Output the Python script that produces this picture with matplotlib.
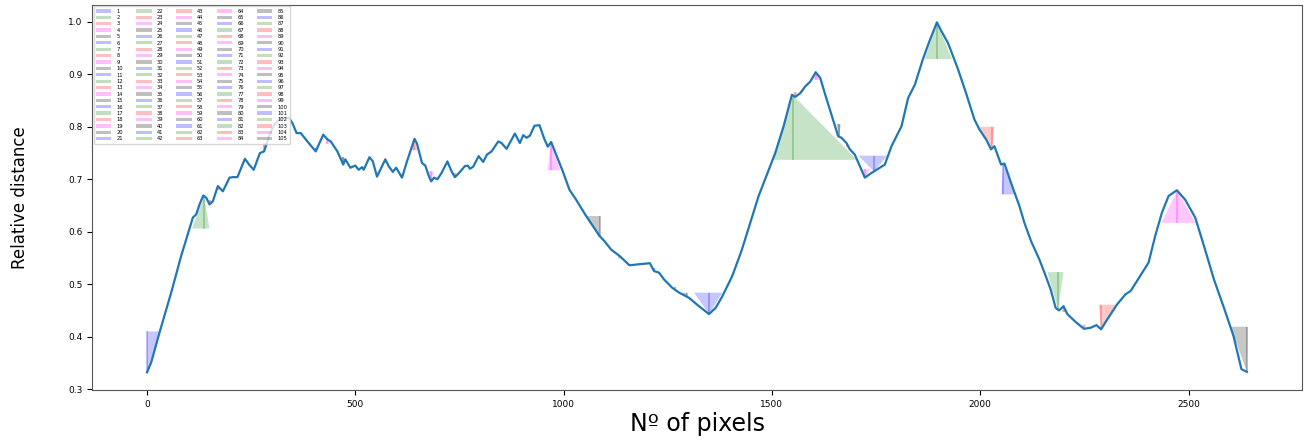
import numpy as np
from matplotlib import pyplot as plt
from matplotlib.patches import Patch

# Kurve
px = [0, 10, 30, 58, 82, 110, 118, 126, 135, 142, 150, 158, 170, 182, 198, 206, 217, 235, 245, 256,
      271, 281, 293, 305, 321, 341, 349, 359, 369, 385, 405, 423, 433, 441, 457, 471, 476, 488, 500, 508,
      516, 520, 534, 542, 552, 560, 572, 580, 590, 598, 612, 624, 642, 648, 660, 668, 676, 682, 689, 697,
      707, 721, 731, 739, 750, 763, 770, 775, 783, 796, 807, 816, 827, 843, 851, 863, 883, 895, 903, 911,
      919, 930, 942, 954, 962, 970, 982, 998, 1014, 1030, 1054, 1070, 1086, 1098, 1114, 1134, 1158, 1181, 1207, 1217,
      1229, 1241, 1261, 1277, 1301, 1325, 1349, 1365, 1381, 1405, 1428, 1448, 1468, 1488, 1508, 1528, 1548, 1556, 1568, 1580,
      1592, 1605, 1616, 1628, 1644, 1659, 1667, 1679, 1687, 1699, 1711, 1723, 1739, 1759, 1771, 1787, 1811, 1827, 1843, 1862,
      1878, 1896, 1907, 1923, 1947, 1966, 1986, 1998, 2014, 2026, 2034, 2050, 2058, 2074, 2094, 2106, 2122, 2142, 2157, 2169,
      2181, 2189, 2200, 2209, 2229, 2249, 2265, 2279, 2290, 2305, 2329, 2349, 2361, 2384, 2404, 2420, 2436, 2452, 2472, 2492,
      2516, 2537, 2561, 2585, 2608, 2627, 2640]
dist = [0.332, 0.351, 0.408, 0.484, 0.554, 0.627, 0.633, 0.652, 0.669, 0.665, 0.652, 0.658, 0.687, 0.677, 0.703, 0.704, 0.704, 0.739, 0.728, 0.718,
        0.750, 0.753, 0.782, 0.804, 0.817, 0.817, 0.807, 0.788, 0.788, 0.772, 0.753, 0.785, 0.776, 0.772, 0.753, 0.728, 0.738, 0.722, 0.726, 0.718,
        0.723, 0.718, 0.742, 0.734, 0.705, 0.718, 0.738, 0.725, 0.714, 0.722, 0.703, 0.734, 0.777, 0.768, 0.731, 0.726, 0.707, 0.696, 0.703, 0.700,
        0.712, 0.734, 0.715, 0.704, 0.713, 0.725, 0.726, 0.720, 0.724, 0.744, 0.733, 0.747, 0.753, 0.772, 0.769, 0.758, 0.787, 0.769, 0.784, 0.779,
        0.783, 0.802, 0.803, 0.776, 0.762, 0.771, 0.747, 0.715, 0.680, 0.661, 0.630, 0.611, 0.592, 0.582, 0.566, 0.554, 0.536, 0.538, 0.540, 0.525,
        0.522, 0.509, 0.493, 0.484, 0.474, 0.458, 0.443, 0.455, 0.477, 0.516, 0.566, 0.617, 0.668, 0.709, 0.750, 0.801, 0.861, 0.857, 0.864, 0.877,
        0.886, 0.904, 0.893, 0.861, 0.820, 0.782, 0.779, 0.769, 0.757, 0.747, 0.725, 0.703, 0.712, 0.722, 0.728, 0.763, 0.801, 0.855, 0.880, 0.928,
        0.963, 0.999, 0.982, 0.959, 0.909, 0.864, 0.814, 0.795, 0.776, 0.757, 0.763, 0.728, 0.730, 0.693, 0.649, 0.617, 0.582, 0.547, 0.516, 0.490,
        0.455, 0.450, 0.458, 0.443, 0.428, 0.415, 0.417, 0.422, 0.414, 0.433, 0.462, 0.481, 0.487, 0.516, 0.541, 0.592, 0.636, 0.668, 0.679, 0.661,
        0.627, 0.573, 0.509, 0.455, 0.401, 0.338, 0.333]

# sichtbare Extrema: Nummer, Lage, linke/rechte Grenze, Basishoehe
feat_n = [1, 2, 3, 4, 13, 21, 24, 25, 33, 34, 37, 38, 39, 42, 43,
          69, 70, 71, 72, 76, 77, 80, 81, 82, 83, 84, 85, 88, 89, 91, 92,
          93, 96, 97, 98, 99, 103, 104, 105]
feat_x = [0, 137, 150, 170, 281, 405, 433, 471, 552, 572, 612, 642, 682, 721, 739,
          969, 1087, 1092, 1134, 1217, 1268, 1296, 1349, 1551, 1556, 1605, 1662, 1680, 1723, 1745, 1896,
          2028, 2055, 2187, 2200, 2249, 2291, 2473, 2640]
feat_left = [0, 108, 146, 166, 277, 401, 429, 466, 549, 569, 609, 636, 676, 718, 736,
             962, 1054, 1089, 1131, 1213, 1265, 1284, 1313, 1500, 1553, 1597, 1655, 1677, 1715, 1707, 1867,
             1998, 2051, 2161, 2195, 2244, 2285, 2435, 2601]
feat_right = [30, 150, 155, 174, 287, 409, 440, 474, 555, 575, 615, 649, 689, 724, 742,
              992, 1087, 1096, 1137, 1221, 1271, 1296, 1381, 1704, 1560, 1618, 1665, 1685, 1737, 1777, 1932,
              2034, 2085, 2200, 2206, 2254, 2325, 2517, 2641]
feat_base = [0.410, 0.606, 0.660, 0.679, 0.769, 0.760, 0.768, 0.742, 0.712, 0.731, 0.710, 0.755, 0.715, 0.727, 0.711,
             0.717, 0.630, 0.586, 0.549, 0.531, 0.495, 0.484, 0.484, 0.737, 0.866, 0.890, 0.805, 0.762, 0.719, 0.745, 0.929,
             0.800, 0.671, 0.523, 0.447, 0.423, 0.461, 0.617, 0.419]

N_FEATURES = 105
FARBEN = ["blue", "green", "red", "magenta", "black"]

fig = plt.figure(figsize=(13.07, 4.41), dpi=100)
ax = fig.add_axes([0.0704, 0.116, 0.926, 0.873])

for n, xp, l, r, b in zip(feat_n, feat_x, feat_left, feat_right, feat_base):
    c = FARBEN[(n - 1) % 5]
    spitze = np.interp(xp, px, dist)
    ax.fill([l, xp, r], [b, spitze, b], color=c, alpha=0.22, lw=0, zorder=1)
    ax.vlines(xp, b, spitze, color=c, alpha=0.3, lw=1.2, zorder=1)

ax.plot(px, dist, color="#1f77b4", lw=1.6, zorder=2)

handles = [Patch(facecolor=FARBEN[i % 5], alpha=0.25, label=str(i + 1)) for i in range(N_FEATURES)]
ax.legend(handles=handles, loc="upper left", ncol=5, fontsize=3.7, handlelength=3.0,
          handleheight=0.6, handletextpad=1.0, columnspacing=2.55, labelspacing=0.27,
          borderaxespad=0.3, borderpad=0.45)

ax.set_yticks(np.arange(0.3, 1.01, 0.1))
ax.set_xticks([0, 500, 1000, 1500, 2000, 2500])
ax.tick_params(labelsize=6.5, length=3.5, width=0.8)
for s in ax.spines.values():
    s.set_color("#555555")

ax.set_xlabel("Nº of pixels", fontsize=17)
ax.set_ylabel("Relative distance", fontsize=12)
ax.xaxis.set_label_coords(0.5, -0.058)
ax.yaxis.set_label_coords(-0.052, 0.5)

fig.savefig("out.png", dpi=100)
